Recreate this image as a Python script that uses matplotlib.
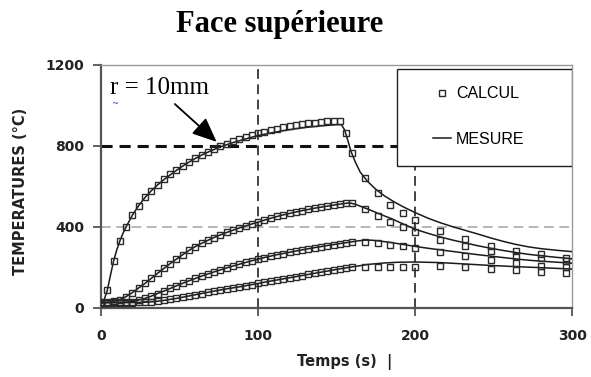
import matplotlib
matplotlib.use("Agg")
import matplotlib.pyplot as plt
from matplotlib.patches import Rectangle
from matplotlib.lines import Line2D

plt.rcParams["lines.scale_dashes"] = False

# ---- simulated temperatures (CALCUL), sampled on a common time grid ----
calc_t = [0, 4, 8, 12, 16, 20, 24, 28, 32, 36, 40, 44, 48, 52, 56, 60, 64, 68,
          72, 76, 80, 84, 88, 92, 96, 100, 104, 108, 112, 116, 120, 124, 128,
          132, 136, 140, 144, 148, 152, 156, 160,
          168, 176, 184, 192, 200, 216, 232, 248, 264, 280, 296]

calc_r1 = [30, 87, 231, 330, 400, 460, 505, 546, 578, 608, 635, 660, 683, 703,
           722, 740, 757, 772, 786, 798, 810, 822, 833, 844, 854, 863, 871, 879,
           886, 892, 898, 903, 907, 911, 915, 918, 921, 923, 925, 862, 763,
           643, 565, 508, 470, 434, 378, 339, 304, 279, 266, 245]
calc_r2 = [25, 27, 32, 40, 55, 75, 98, 120, 145, 170, 194, 218, 240, 262, 283,
           302, 318, 333, 347, 360, 372, 383, 394, 404, 414, 423, 433, 442, 451,
           459, 466, 473, 480, 486, 492, 497, 502, 507, 512, 516, 518,
           487, 453, 423, 400, 376, 336, 305, 278, 257, 245, 230]
calc_r3 = [25, 25, 26, 27, 28, 30, 38, 46, 57, 70, 82, 95, 108, 120, 133, 145,
           156, 167, 177, 187, 197, 206, 215, 224, 232, 240, 248, 255, 262, 268,
           274, 280, 286, 292, 297, 302, 307, 312, 317, 322, 326,
           326, 318, 310, 305, 293, 273, 256, 238, 222, 208, 199]
calc_r4 = [25, 25, 25, 25, 25, 25, 26, 27, 29, 32, 36, 41, 46, 52, 58, 64, 70,
           77, 82, 87, 93, 98, 103, 108, 114, 120, 126, 131, 137, 142, 148, 154,
           159, 165, 170, 176, 181, 186, 192, 197, 202,
           200, 201, 201, 201, 201, 204, 200, 193, 185, 178, 173]

# ---- measured temperatures (MESURE) ----
mes_t1 = [0, 2, 4, 6, 8, 10, 12, 14, 16, 20, 24, 28, 32, 36, 40, 45, 50, 55, 60,
          65, 70, 75, 80, 85, 90, 95, 100, 105, 110, 115, 120, 125, 130, 135,
          140, 145, 150, 153, 155, 157, 159, 162, 165, 170, 175, 180, 186, 192,
          200, 208, 216, 224, 232, 240, 248, 256, 264, 272, 280, 290, 300]
mes_r1 = [30, 40, 85, 160, 230, 285, 330, 368, 400, 458, 505, 545, 578, 607,
          633, 662, 690, 715, 738, 758, 776, 792, 806, 819, 830, 841, 851, 859,
          867, 874, 880, 886, 891, 895, 899, 902, 905, 905, 880, 830, 775, 718,
          670, 622, 585, 555, 526, 500, 470, 443, 420, 400, 382, 364, 345, 328,
          313, 301, 292, 284, 277]

mes_t2 = [0, 4, 8, 12, 16, 20, 24, 28, 32, 36, 40, 44, 48, 52, 56, 60, 64, 68,
          72, 76, 80, 84, 88, 92, 96, 100, 104, 108, 112, 116, 120, 124, 128,
          132, 136, 140, 144, 148, 152, 156, 158, 162, 166, 170, 175, 180, 185,
          190, 195, 200, 208, 216, 224, 232, 240, 248, 256, 264, 272, 280, 290,
          300]
mes_r2 = [25, 27, 32, 40, 55, 75, 98, 120, 145, 170, 194, 218, 240, 262, 283,
          302, 318, 333, 347, 360, 372, 383, 394, 404, 414, 423, 433, 442, 451,
          459, 466, 473, 480, 486, 492, 497, 502, 507, 512, 516, 519, 511, 499,
          487, 471, 455, 440, 422, 405, 388, 368, 350, 334, 320, 306, 294, 283,
          273, 264, 257, 249, 242]

mes_t3 = [0, 8, 16, 20, 24, 28, 32, 36, 40, 48, 56, 64, 72, 80, 88, 96, 104,
          112, 120, 128, 136, 144, 152, 160, 164, 168, 172, 176, 184, 192, 200,
          208, 216, 224, 232, 240, 248, 256, 264, 272, 280, 290, 300]
mes_r3 = [25, 26, 28, 30, 38, 46, 57, 70, 82, 108, 133, 156, 177, 197, 215,
          232, 248, 262, 274, 286, 297, 307, 317, 326, 331, 334, 334, 331, 323,
          313, 303, 294, 286, 278, 270, 262, 255, 248, 241, 235, 230, 225, 220]

mes_t4 = [0, 8, 16, 24, 28, 32, 36, 40, 48, 56, 64, 72, 80, 88, 96, 104, 112,
          120, 128, 136, 144, 152, 160, 170, 180, 190, 200, 216, 232, 248, 264,
          280, 300]
mes_r4 = [25, 25, 25, 26, 27, 29, 32, 36, 46, 58, 70, 82, 93, 103, 114, 126,
          137, 148, 159, 170, 181, 192, 202, 214, 221, 225, 226, 223, 216, 209,
          203, 198, 191]

x_ticks = [0, 100, 200, 300]
y_ticks = [0, 400, 800, 1200]

fig = plt.figure(figsize=(5.91, 3.77), dpi=100)
ax = fig.add_axes([0.1709, 0.1838, 0.7975, 0.6438])

# reference grid
ax.axhline(400, color="#aaaaaa", lw=1.2, dashes=(7, 4), zorder=1)
ax.axhline(800, color="#111111", lw=2.2, dashes=(8, 5), zorder=1)
for xv in (100, 200):
    ax.axvline(xv, color="#222222", lw=1.2, dashes=(7, 4), zorder=1)

line_kw = dict(color="#1a1a1a", lw=1.1, zorder=3)
mark_kw = dict(ls="none", marker="s", ms=3.8, mfc="none", mec="#2a2a2a",
               mew=1.0, zorder=4)

for t, v in ((mes_t1, mes_r1), (mes_t2, mes_r2), (mes_t3, mes_r3),
             (mes_t4, mes_r4)):
    ax.plot(t, v, **line_kw)
for v in (calc_r1, calc_r2, calc_r3, calc_r4):
    ax.plot(calc_t, v, **mark_kw)

ax.set_xlim(0, 300)
ax.set_ylim(0, 1200)
ax.set_xticks(x_ticks)
ax.set_yticks(y_ticks)
ax.tick_params(axis="x", direction="out", length=6, width=1.3, color="#555555",
               pad=9, labelsize=10)
ax.tick_params(axis="y", direction="out", length=6, width=1.3, color="#555555",
               pad=6, labelsize=10)
for lab in ax.get_xticklabels() + ax.get_yticklabels():
    lab.set_fontweight("bold")
    lab.set_color("#222222")

for side in ("left", "bottom"):
    ax.spines[side].set_color("#555555")
    ax.spines[side].set_linewidth(1.6)
for side in ("top", "right"):
    ax.spines[side].set_color("#999999")
    ax.spines[side].set_linewidth(1.0)

ax.set_xlabel("Temps (s)  |", fontsize=10.5, fontweight="bold", color="#222222")
ax.xaxis.set_label_coords(0.516, -0.19)
ax.set_ylabel("TEMPERATURES (°C)", fontsize=10.5, fontweight="bold",
              color="#222222")
ax.yaxis.set_label_coords(-0.155, 0.48)

# legend box
ax.add_patch(Rectangle((0.628, 0.584), 0.372, 0.3995, transform=ax.transAxes,
                       facecolor="white", edgecolor="#222222", lw=1.0,
                       zorder=6))
handles = [Line2D([], [], **mark_kw),
           Line2D([], [], color="#1a1a1a", lw=1.1)]
leg = ax.legend(handles, ["CALCUL", "MESURE"], loc="center left",
                bbox_to_anchor=(0.7044, 0.788), frameon=False,
                prop={"family": "Liberation Sans", "size": 11.5},
                handlelength=1.1, handletextpad=0.35, labelspacing=1.9,
                borderpad=0, borderaxespad=0)
leg.set_zorder(7)

# annotation
ax.text(5.5, 1058, "r = 10mm", family="Liberation Serif", fontsize=18,
        va="baseline", ha="left", zorder=5)
ax.text(6.5, 1008, "~", color="#2040ff", fontsize=6, va="center", ha="left",
        zorder=5)
ax.annotate("", xy=(73.6, 820), xytext=(47, 1007),
            arrowprops=dict(arrowstyle="-|>,head_length=1.5,head_width=0.65",
                            mutation_scale=10, color="black", lw=1.3,
                            shrinkA=0, shrinkB=0), zorder=5)

fig.text(0.473, 0.916, "Face supérieure", family="Liberation Serif",
         fontweight="bold", fontsize=22, ha="center", va="baseline")

fig.savefig("out.png", dpi=100, facecolor="white")
